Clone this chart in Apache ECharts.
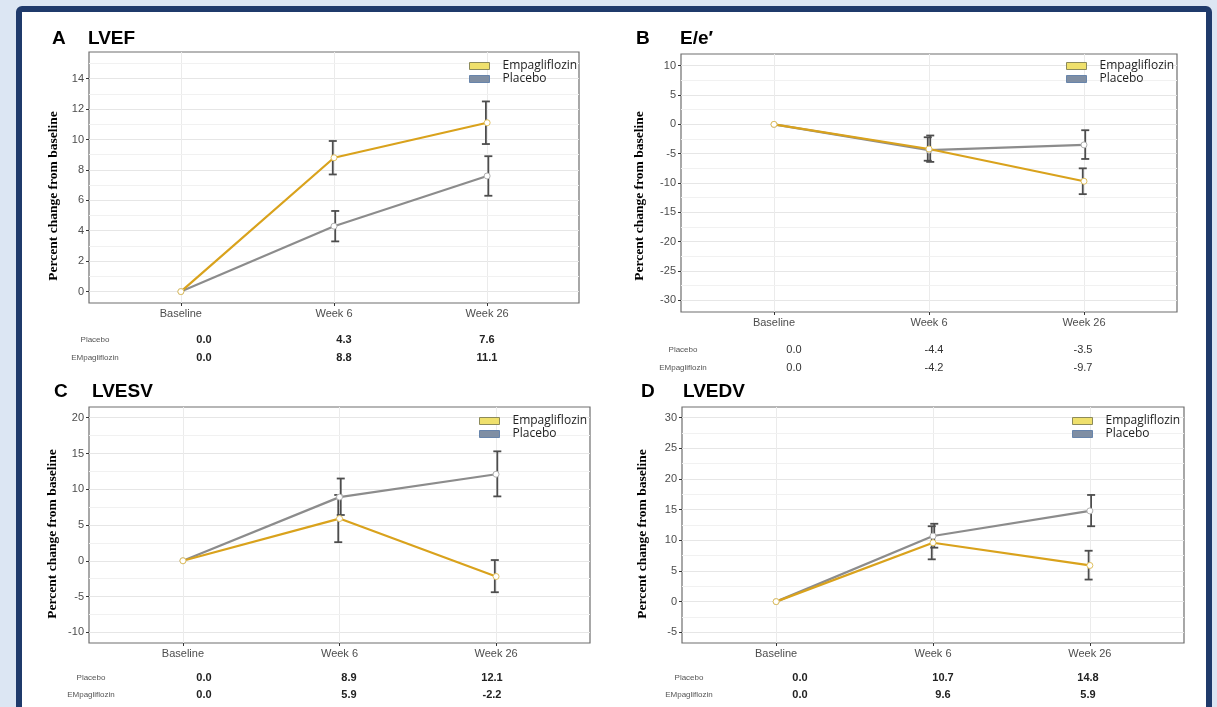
<!DOCTYPE html>
<html>
<head>
<meta charset="utf-8">
<script src="https://cdn.jsdelivr.net/npm/echarts@6/dist/echarts.min.js"></script>
<style>
  html, body { margin: 0; padding: 0; background: #dce6f3; overflow: hidden; }
  #frame { position: absolute; left: 16px; top: 6px; width: 1184px; height: 720px;
           border: 6px solid #1f3a6b; border-radius: 6px; background: #fff; }
  #main { position: absolute; left: 0; top: 0; width: 1217px; height: 707px; }
</style>
</head>
<body>
<div id="frame"></div>
<div id="main"></div>
<script>
// categories on the x axis
var categories = ['Baseline', 'Week 6', 'Week 26'];

// A  LVEF
var lvefEmp = [0.0, 8.8, 11.1];
var lvefPla = [0.0, 4.3, 7.6];
var lvefEmpErr = [null, [7.7, 9.9], [9.7, 12.5]];
var lvefPlaErr = [null, [3.3, 5.3], [6.3, 8.9]];
var lvefTicks = [0, 2, 4, 6, 8, 10, 12, 14];

// B  E/e'
var eeEmp = [0.0, -4.2, -9.7];
var eePla = [0.0, -4.4, -3.5];
var eeEmpErr = [null, [-6.2, -2.2], [-11.9, -7.5]];
var eePlaErr = [null, [-6.4, -1.9], [-5.9, -1.0]];
var eeTicks = [-30, -25, -20, -15, -10, -5, 0, 5, 10];

// C  LVESV
var lvesvEmp = [0.0, 5.9, -2.2];
var lvesvPla = [0.0, 8.9, 12.1];
var lvesvEmpErr = [null, [2.6, 9.2], [-4.4, 0.1]];
var lvesvPlaErr = [null, [6.4, 11.5], [9.0, 15.3]];
var lvesvTicks = [-10, -5, 0, 5, 10, 15, 20];

// D  LVEDV
var lvedvEmp = [0.0, 9.6, 5.9];
var lvedvPla = [0.0, 10.7, 14.8];
var lvedvEmpErr = [null, [6.9, 12.3], [3.6, 8.3]];
var lvedvPlaErr = [null, [8.8, 12.7], [12.3, 17.4]];
var lvedvTicks = [-5, 0, 5, 10, 15, 20, 25, 30];

var EMP = '#d9a21c', PLA = '#8c8c8c';

var panels = [
  {letter: 'A', name: 'LVEF', emp: lvefEmp, pla: lvefPla, empErr: lvefEmpErr, plaErr: lvefPlaErr,
   ticks: lvefTicks, min: -0.75, max: 15.75, grid: {left: 89, top: 52, width: 490, height: 251},
   legend: {left: 469, top: 60}, title: [52, 88, 40], yname: [54, 196],
   table: {lx: 95, ly: [340, 358], vx: [204, 344, 487], bold: true}},
  {letter: 'B', name: 'E/e\u2032', emp: eeEmp, pla: eePla, empErr: eeEmpErr, plaErr: eePlaErr,
   ticks: eeTicks, min: -32, max: 12, grid: {left: 681, top: 54, width: 496, height: 258},
   legend: {left: 1066, top: 60}, title: [636, 680, 40], yname: [640, 196],
   table: {lx: 683, ly: [350, 368], vx: [794, 934, 1083], bold: false}},
  {letter: 'C', name: 'LVESV', emp: lvesvEmp, pla: lvesvPla, empErr: lvesvEmpErr, plaErr: lvesvPlaErr,
   ticks: lvesvTicks, min: -11.5, max: 21.5, grid: {left: 89, top: 407, width: 501, height: 236},
   legend: {left: 479, top: 415}, title: [54, 92, 393], yname: [53, 534],
   table: {lx: 91, ly: [678, 695], vx: [204, 349, 492], bold: true}},
  {letter: 'D', name: 'LVEDV', emp: lvedvEmp, pla: lvedvPla, empErr: lvedvEmpErr, plaErr: lvedvPlaErr,
   ticks: lvedvTicks, min: -6.75, max: 31.75, grid: {left: 682, top: 407, width: 502, height: 236},
   legend: {left: 1072, top: 415}, title: [641, 683, 393], yname: [643, 534],
   table: {lx: 689, ly: [678, 695], vx: [800, 943, 1088], bold: true}}
];

function renderErr(params, api) {
  var x = api.value(0);
  var hi = api.coord([x, api.value(2)]);
  var lo = api.coord([x, api.value(1)]);
  var w = 4;
  var st = {stroke: '#4d4d4d', lineWidth: 1.8};
  return {type: 'group', children: [
    {type: 'line', shape: {x1: hi[0], y1: hi[1], x2: lo[0], y2: lo[1]}, style: st},
    {type: 'line', shape: {x1: hi[0] - w, y1: hi[1], x2: hi[0] + w, y2: hi[1]}, style: st},
    {type: 'line', shape: {x1: lo[0] - w, y1: lo[1], x2: lo[0] + w, y2: lo[1]}, style: st}
  ]};
}

function errData(err, dx) {
  var out = [];
  err.forEach(function (e, i) { if (e) out.push([i + dx, e[0], e[1]]); });
  return out;
}

// minor grid lines halfway between the major breaks
function minorLines(ticks, min, max) {
  var step = ticks[1] - ticks[0], out = [];
  for (var v = ticks[0] - step / 2; v <= max; v += step) {
    if (v >= min) out.push({yAxis: v});
  }
  return out;
}

var grids = [], xAxes = [], yAxes = [], series = [], legends = [], graphics = [];

panels.forEach(function (p, k) {
  grids.push(Object.assign({show: true, borderColor: '#6e6e6e', borderWidth: 1.2, backgroundColor: '#fff'}, p.grid));
  xAxes.push({
    type: 'value', gridIndex: k, min: -0.6, max: 2.6, position: 'bottom',
    axisLine: {show: false, onZero: false},
    axisTick: {show: true, length: 3, lineStyle: {color: '#333'}, customValues: [0, 1, 2]},
    axisLabel: {customValues: [0, 1, 2], margin: 5, color: '#4d4d4d', fontSize: 11,
                fontFamily: 'Liberation Sans', formatter: function (v) { return categories[Math.round(v)]; }},
    splitLine: {show: true, lineStyle: {color: '#ebebeb', width: 1}}
  });
  yAxes.push({
    type: 'value', gridIndex: k, min: p.min, max: p.max, position: 'left',
    axisLine: {show: false, onZero: false},
    axisTick: {show: true, length: 3, lineStyle: {color: '#333'}, customValues: p.ticks},
    axisLabel: {customValues: p.ticks, margin: 5, color: '#4d4d4d', fontSize: 11, fontFamily: 'Liberation Sans'},
    splitLine: {show: true, lineStyle: {color: '#e6e6e6', width: 1}}
  });
  series.push({
    type: 'custom', name: 'Empagliflozin', xAxisIndex: k, yAxisIndex: k, z: 3,
    renderItem: renderErr, encode: {x: 0, y: [1, 2]}, data: errData(p.empErr, -0.008),
    markLine: {silent: true, symbol: 'none', z: 1, label: {show: false},
               lineStyle: {color: '#f1f1f1', width: 1, type: 'solid'},
               data: minorLines(p.ticks, p.min, p.max)}
  });
  series.push({
    type: 'custom', name: 'Placebo', xAxisIndex: k, yAxisIndex: k, z: 3,
    renderItem: renderErr, encode: {x: 0, y: [1, 2]}, data: errData(p.plaErr, 0.008)
  });
  [['Placebo', p.pla, PLA], ['Empagliflozin', p.emp, EMP]].forEach(function (s) {
    series.push({
      type: 'line', name: s[0], xAxisIndex: k, yAxisIndex: k, z: 4,
      data: s[1].map(function (v, i) { return [i, v]; }),
      symbol: 'circle', symbolSize: 6, showSymbol: true,
      lineStyle: {color: s[2], width: 2.2},
      itemStyle: {color: '#fff', borderColor: s[0] === 'Placebo' ? '#b0b0b0' : '#e0c060', borderWidth: 1},
      emphasis: {disabled: true}
    });
  });
  legends.push({
    orient: 'vertical', left: p.legend.left, top: p.legend.top, padding: 0, itemGap: 1,
    itemWidth: 20, itemHeight: 7, icon: 'rect', selectedMode: false,
    textStyle: {fontFamily: 'Open Sans', fontSize: 12, color: '#222', lineHeight: 12, padding: [0, 0, 0, 8]},
    data: [
      {name: 'Empagliflozin', itemStyle: {color: '#efe06c', borderColor: '#8c8a5a', borderWidth: 1}},
      {name: 'Placebo', itemStyle: {color: '#7f8ea3', borderColor: '#6784ab', borderWidth: 1}}
    ]
  });
  // panel letter and title
  graphics.push({type: 'text', left: p.title[0], top: p.title[2] - 11,
    style: {text: p.letter, font: 'bold 19px "Liberation Sans"', fill: '#000'}});
  graphics.push({type: 'text', left: p.title[1], top: p.title[2] - 11,
    style: {text: p.name, font: 'bold 19px "Liberation Sans"', fill: '#000'}});
  // y axis name
  graphics.push({type: 'text', x: p.yname[0], y: p.yname[1], rotation: Math.PI / 2,
    style: {text: 'Percent change from baseline', font: 'bold 13.5px "Liberation Serif"', fill: '#000',
            align: 'center', verticalAlign: 'middle'}});
  // table under each panel
  var rows = [['Placebo', p.pla], ['EMpagliflozin', p.emp]];
  rows.forEach(function (r, j) {
    graphics.push({type: 'text', x: p.table.lx, y: p.table.ly[j],
      style: {text: r[0], font: '8px "Liberation Sans"', fill: '#555', align: 'center', verticalAlign: 'middle'}});
    r[1].forEach(function (v, i) {
      graphics.push({type: 'text', x: p.table.vx[i], y: p.table.ly[j],
        style: {text: v.toFixed(1), font: (p.table.bold ? 'bold ' : '') + '11px "Liberation Sans"',
                fill: p.table.bold ? '#222' : '#333', align: 'center', verticalAlign: 'middle'}});
    });
  });
});

var chart = echarts.init(document.getElementById('main'), null, {renderer: 'canvas'});
chart.setOption({
  backgroundColor: 'transparent',
  animation: false,
  grid: grids,
  xAxis: xAxes,
  yAxis: yAxes,
  legend: legends,
  series: series,
  graphic: graphics
});
</script>
</body>
</html>
